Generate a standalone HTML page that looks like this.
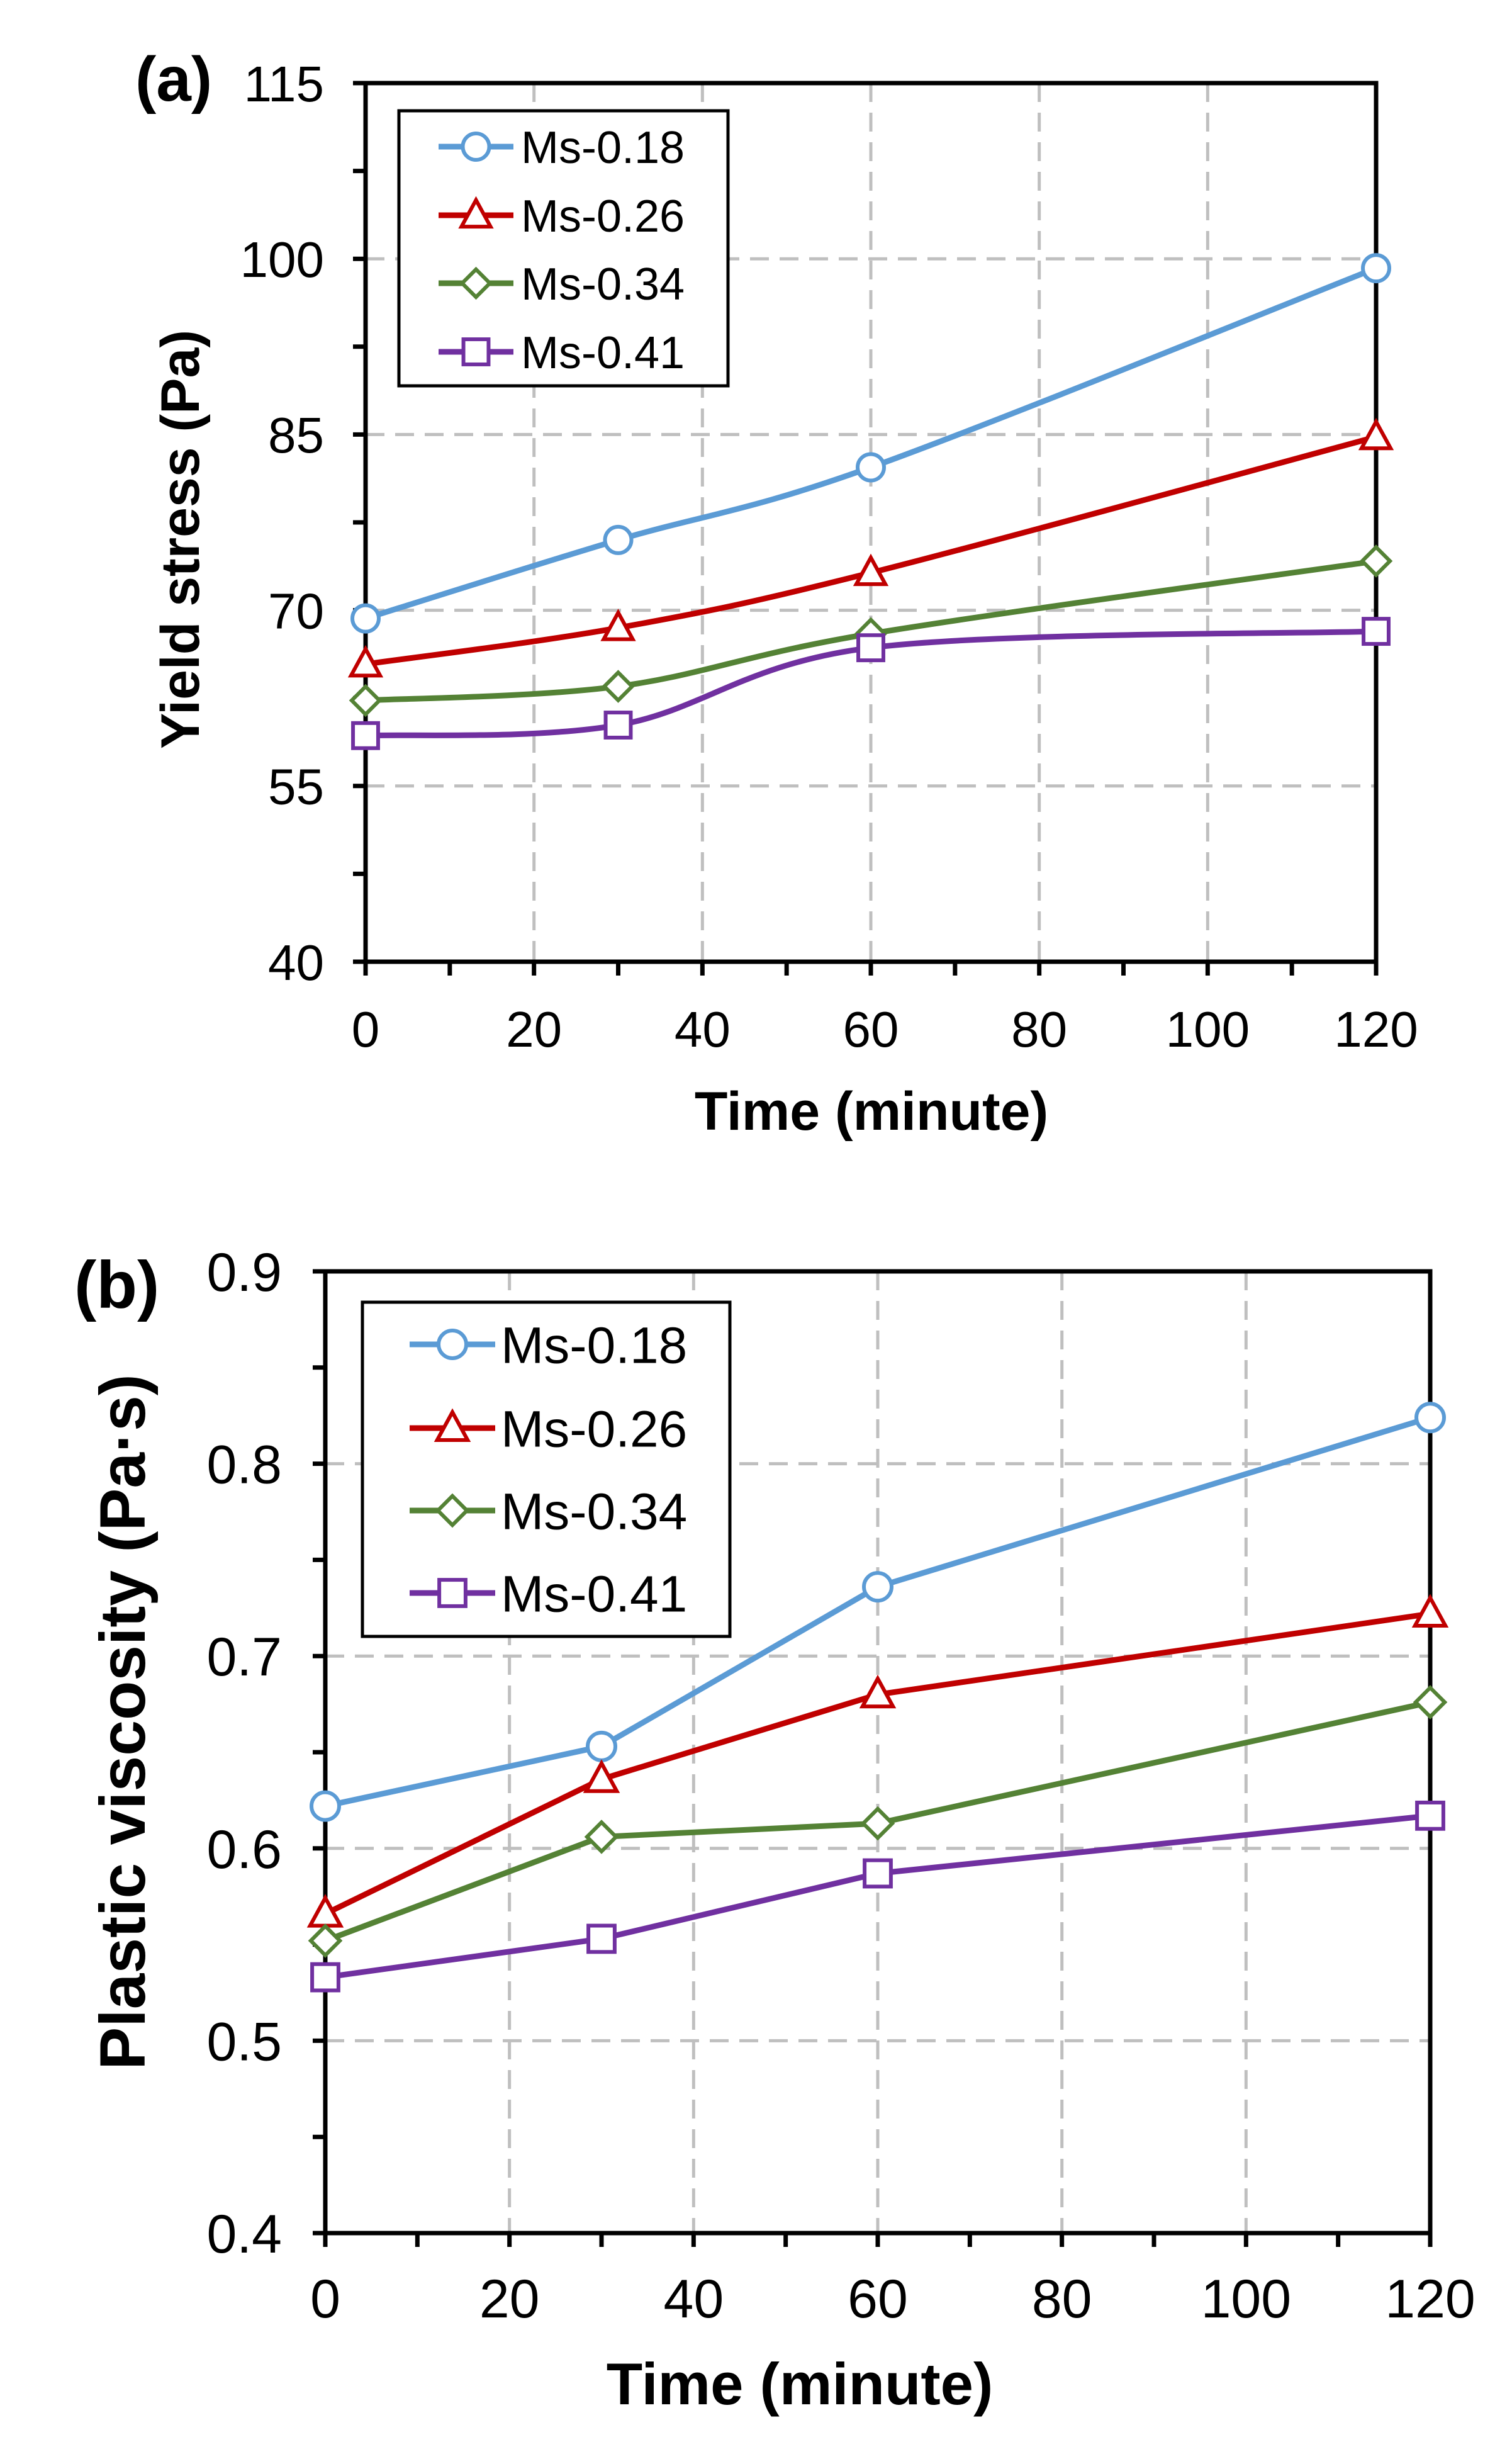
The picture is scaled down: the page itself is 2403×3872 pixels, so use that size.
<!DOCTYPE html>
<html><head><meta charset="utf-8">
<style>
html,body{margin:0;padding:0;background:#fff;}
svg{display:block;}
text{font-family:"Liberation Sans",Arial,sans-serif;fill:#000;}
</style></head>
<body>
<svg id="chart" width="2403" height="3872" viewBox="0 0 2403 3872" xmlns="http://www.w3.org/2000/svg">
<g id="pa"></g>
<g id="pb"></g>
</svg>
<script>
const times = [0, 30, 60, 120];
const seriesNames = ["Ms-0.18", "Ms-0.26", "Ms-0.34", "Ms-0.41"];
const yieldMs018 = [69.3, 76.0, 82.2, 99.2];
const yieldMs026 = [65.4, 68.5, 73.2, 84.8];
const yieldMs034 = [62.3, 63.5, 68.0, 74.2];
const yieldMs041 = [59.3, 60.2, 66.8, 68.2];
const viscMs018 = [0.622, 0.653, 0.736, 0.824];
const viscMs026 = [0.566, 0.636, 0.680, 0.722];
const viscMs034 = [0.552, 0.606, 0.613, 0.676];
const viscMs041 = [0.533, 0.553, 0.587, 0.617];
const yieldTicks = [40, 55, 70, 85, 100, 115];
const viscTicks = [0.4, 0.5, 0.6, 0.7, 0.8, 0.9];
const viscTickLabels = ["0.4", "0.5", "0.6", "0.7", "0.8", "0.9"];
const xTicks = [0, 20, 40, 60, 80, 100, 120];

const NS = "http://www.w3.org/2000/svg";
const colors = ["#5b9bd5", "#c00000", "#548235", "#7030a0"];
const shapes = ["circle", "triangle", "diamond", "square"];

function mk(parent, tag, attrs) {
  const e = document.createElementNS(NS, tag);
  for (const k in attrs) e.setAttribute(k, attrs[k]);
  parent.appendChild(e);
  return e;
}

function marker(g, shape, cx, cy, color, r, sw) {
  let e;
  if (shape === "circle") {
    e = mk(g, "circle", {cx: cx, cy: cy, r: r, fill: "#fff", stroke: color, "stroke-width": sw});
  } else if (shape === "triangle") {
    const h = r * 1.15;
    e = mk(g, "polygon", {points: `${cx},${cy - h} ${cx + r * 1.1},${cy + h * 0.75} ${cx - r * 1.1},${cy + h * 0.75}`, fill: "#fff", stroke: color, "stroke-width": sw, "stroke-linejoin": "miter"});
  } else if (shape === "diamond") {
    e = mk(g, "polygon", {points: `${cx},${cy - r * 1.05} ${cx + r * 1.05},${cy} ${cx},${cy + r * 1.05} ${cx - r * 1.05},${cy}`, fill: "#fff", stroke: color, "stroke-width": sw});
  } else {
    e = mk(g, "rect", {x: cx - r * 0.95, y: cy - r * 0.95, width: r * 1.9, height: r * 1.9, fill: "#fff", stroke: color, "stroke-width": sw});
  }
  return e;
}

function smoothPath(pts) {
  let d = `M${pts[0][0]},${pts[0][1]}`;
  for (let i = 0; i < pts.length - 1; i++) {
    const p0 = pts[Math.max(0, i - 1)], p1 = pts[i], p2 = pts[i + 1], p3 = pts[Math.min(pts.length - 1, i + 2)];
    const t = 1 / 6;
    const c1 = [p1[0] + (p2[0] - p0[0]) * t, p1[1] + (p2[1] - p0[1]) * t];
    const c2 = [p2[0] - (p3[0] - p1[0]) * t, p2[1] - (p3[1] - p1[1]) * t];
    d += ` C${c1[0]},${c1[1]} ${c2[0]},${c2[1]} ${p2[0]},${p2[1]}`;
  }
  return d;
}

function drawPanel(g, cfg) {
  const X = v => cfg.x0 + (v - 0) / 120 * (cfg.x1 - cfg.x0);
  const Y = v => cfg.y0 - (v - cfg.ymin) / (cfg.ymax - cfg.ymin) * (cfg.y0 - cfg.y1);
  const grid = mk(g, "g", {});
  
  
  cfg.yt.forEach((v, i) => {
    if (i === 0 || i === cfg.yt.length - 1) return;
    mk(grid, "line", {x1: cfg.x0, x2: cfg.x1, y1: Y(v), y2: Y(v), stroke: "#bfbfbf", "stroke-width": 5, "stroke-dasharray": "30 17"});
  });
  xTicks.forEach((v, i) => {
    if (i === 0 || i === xTicks.length - 1) return;
    mk(grid, "line", {x1: X(v), x2: X(v), y1: cfg.y1, y2: cfg.y0, stroke: "#bfbfbf", "stroke-width": 5, "stroke-dasharray": "30 17"});
  });
  const frame = mk(g, "rect", {x: cfg.x0, y: cfg.y1, width: cfg.x1 - cfg.x0, height: cfg.y0 - cfg.y1, fill: "none", stroke: "#000", "stroke-width": 7});
  
  
  const yax = mk(g, "g", {});
  
  
  for (let i = 0; i < cfg.yt.length; i++) {
    const v = cfg.yt[i];
    mk(yax, "line", {x1: cfg.x0 - 20, x2: cfg.x0, y1: Y(v), y2: Y(v), stroke: "#000", "stroke-width": 7});
    if (i < cfg.yt.length - 1) {
      const m = (v + cfg.yt[i + 1]) / 2;
      mk(yax, "line", {x1: cfg.x0 - 20, x2: cfg.x0, y1: Y(m), y2: Y(m), stroke: "#000", "stroke-width": 7});
    }
    const t = mk(yax, "text", {x: cfg.ylabX, y: Y(v) + cfg.fs * 0.36, "text-anchor": "end", "font-size": cfg.fs});
    t.textContent = cfg.ytl[i];
    
    
  }
  const xax = mk(g, "g", {});
  
  
  for (let v = 0; v <= 120; v += 10) {
    mk(xax, "line", {x1: X(v), x2: X(v), y1: cfg.y0, y2: cfg.y0 + 22, stroke: "#000", "stroke-width": 7});
  }
  xTicks.forEach(v => {
    const t = mk(xax, "text", {x: X(v), y: cfg.xlabY, "text-anchor": "middle", "font-size": cfg.fs});
    t.textContent = String(v);
    
    
  });
  cfg.data.forEach((arr, si) => {
    const sg = mk(g, "g", {});
    
    
    const pts = arr.map((v, i) => [X(times[i]), Y(v)]);
    const d = cfg.smooth ? smoothPath(pts) : "M" + pts.map(p => p.join(",")).join(" L");
    const path = mk(sg, "path", {d: d, fill: "none", stroke: colors[si], "stroke-width": 9, "stroke-linejoin": "round"});
    
    
    pts.forEach(p => {
      const m = marker(sg, shapes[si], p[0], p[1], colors[si], cfg.mr, 6);
      
      
    });
  });
  const lg = mk(g, "g", {});
  
  
  mk(lg, "rect", {x: cfg.lg.x, y: cfg.lg.y, width: cfg.lg.w, height: cfg.lg.h, fill: "#fff", stroke: "#000", "stroke-width": 5});
  seriesNames.forEach((n, i) => {
    const ey = cfg.lg.ey[i];
    const eg = mk(lg, "g", {});
    
    
    mk(eg, "line", {x1: cfg.lg.lx0, x2: cfg.lg.lx1, y1: ey, y2: ey, stroke: colors[i], "stroke-width": 9});
    marker(eg, shapes[i], (cfg.lg.lx0 + cfg.lg.lx1) / 2, ey, colors[i], cfg.mr, 6);
    const t = mk(eg, "text", {x: cfg.lg.tx, y: ey + cfg.lg.fs * 0.36, "font-size": cfg.lg.fs});
    t.textContent = n;
  });
  const pl = mk(g, "text", {x: cfg.pl.x, y: cfg.pl.y, "font-size": cfg.pl.fs, "font-weight": "bold"});
  pl.textContent = cfg.pl.t;
  
  
  const yt = mk(g, "text", {x: 0, y: 0, "font-size": cfg.yTitle.fs, "font-weight": "bold", "text-anchor": "middle", transform: `translate(${cfg.yTitle.x},${cfg.yTitle.y}) rotate(-90)`});
  yt.textContent = cfg.yTitle.t;
  
  
  const xt = mk(g, "text", {x: cfg.xTitle.x, y: cfg.xTitle.y, "font-size": cfg.xTitle.fs, "font-weight": "bold", "text-anchor": "middle"});
  xt.textContent = "Time (minute)";
  
  
}

drawPanel(document.getElementById("pa"), {
  x0: 581, x1: 2187, y0: 1528, y1: 132, ymin: 40, ymax: 115,
  yt: yieldTicks, ytl: yieldTicks.map(String), fs: 80, ylabX: 515, xlabY: 1663,
  data: [yieldMs018, yieldMs026, yieldMs034, yieldMs041], smooth: true, mr: 21,
  lg: {x: 634, y: 176, w: 523, h: 437, ey: [233, 342, 450, 559], lx0: 697, lx1: 816, tx: 828, fs: 72},
  pl: {x: 215, y: 160, fs: 100, t: "(a)"},
  yTitle: {x: 316, y: 857, fs: 86, t: "Yield stress (Pa)"},
  xTitle: {x: 1385, y: 1795, fs: 86}
});
drawPanel(document.getElementById("pb"), {
  x0: 517, x1: 2273, y0: 3548, y1: 2020, ymin: 0.4, ymax: 0.9,
  yt: viscTicks, ytl: viscTickLabels, fs: 86, ylabX: 448, xlabY: 3682,
  data: [viscMs018, viscMs026, viscMs034, viscMs041], smooth: false, mr: 22,
  lg: {x: 576, y: 2069, w: 584, h: 531, ey: [2136, 2269, 2400, 2531], lx0: 651, lx1: 787, tx: 796, fs: 82},
  pl: {x: 118, y: 2078, fs: 106, t: "(b)"},
  yTitle: {x: 230, y: 2736, fs: 102, t: "Plastic viscosity (Pa·s)"},
  xTitle: {x: 1271, y: 3820, fs: 94}
});
</script>
</body></html>
